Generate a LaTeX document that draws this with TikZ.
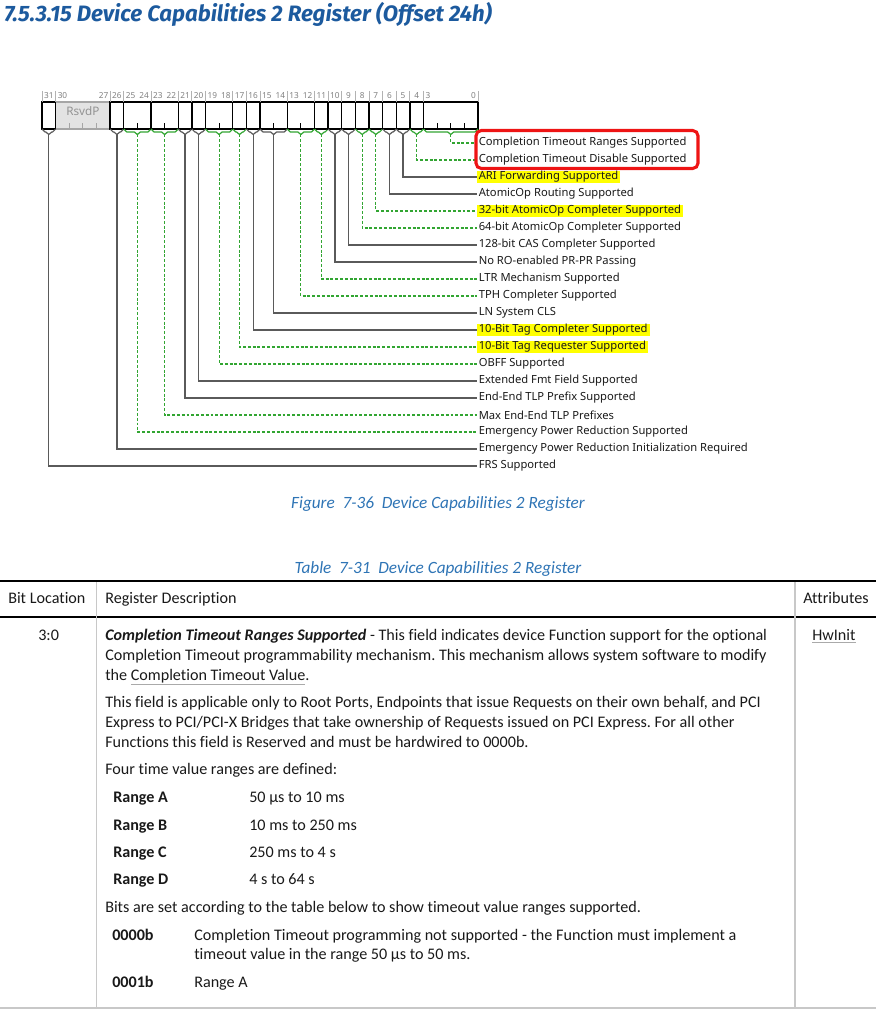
\documentclass[tikz,border=0pt]{standalone}
\usepackage{fontspec}
\setmainfont{Noto Sans}
\newfontfamily\tfont[Ligatures=NoCommon]{Carlito}
\newfontfamily\hfont{Fira Sans}
\frenchspacing
\definecolor{titleblue}{RGB}{28,90,158}
\definecolor{capblue}{RGB}{46,116,181}
\definecolor{cgreen}{RGB}{50,165,50}
\definecolor{cline}{RGB}{90,90,90}
\definecolor{txt}{RGB}{25,25,25}
\definecolor{ulgray}{RGB}{170,170,170}
\definecolor{tgray}{RGB}{200,200,200}
\definecolor{hlyellow}{RGB}{255,255,0}
\definecolor{boxred}{RGB}{238,20,20}
\tikzset{
  fieldbox/.style={draw=black,line width=1.1pt},
  chevs/.style={draw=cline,line width=0.9pt},
  chevg/.style={draw=cgreen,line width=0.9pt},
  conns/.style={draw=cline,line width=0.9pt},
  conng/.style={draw=cgreen,line width=0.8pt,dash pattern=on 2.2pt off 1.4pt},
  bitnum/.style={font=\fontsize{6.2}{7}\selectfont,text=gray,inner sep=0},
  labn/.style={anchor=west,font=\fontsize{8.4}{9}\selectfont,text=txt,inner xsep=1.5,inner ysep=0.6pt},
  labh/.style={labn,fill=hlyellow},
  tbl/.style={anchor=west,inner sep=0,text height=8.6pt,text depth=2.6pt,font=\tfont\fontsize{12.1}{14}\selectfont,text=txt},
  captext/.style={inner sep=0,font=\tfont\itshape\fontsize{12.9}{14}\selectfont,text=capblue}
}
\begin{document}
\begin{tikzpicture}[x=0.75pt,y=-0.75pt]
\useasboundingbox (0,0) rectangle (890,1019);
% title
\node[anchor=west,inner sep=0,font=\hfont\bfseries\itshape\fontsize{16.7}{18}\selectfont,text=titleblue] (title) at (4,14) {7.5.3.15 Device Capabilities 2 Register (Offset 24h)};
% reserved field
\fill[gray!22] (55.625,102) rectangle (110.125,129);
\draw[gray!70,line width=0.9pt] (55.625,102) -- (110.125,102) (55.625,129) -- (110.125,129);
\node[font=\fontsize{8.8}{10}\selectfont,text=gray!85,inner sep=0] (rsvd) at (82.9,111) {RsvdP};
\foreach \k in {1,2,3} \draw[gray!70,line width=0.8pt] (55.625+\k*13.625,123.5) -- (55.625+\k*13.625,129);
\draw[gray!60,line width=0.6pt] (55.625,91) -- (55.625,102) (110.125,91) -- (110.125,102);
\node[bitnum,anchor=west] (n30) at (57.5,96) {30};
\node[bitnum,anchor=east] (n27) at (108.5,96) {27};
% fields
\foreach \m/\l/\ly/\t/\h/\txt [count=\i] in {
 31/31/466/s/n/FRS Supported,
 26/26/449/s/n/Emergency Power Reduction Initialization Required,
 25/24/432/g/n/Emergency Power Reduction Supported,
 23/22/415/g/n/Max End-End TLP Prefixes,
 21/21/398/s/n/End-End TLP Prefix Supported,
 20/20/381/s/n/Extended Fmt Field Supported,
 19/18/364/g/n/OBFF Supported,
 17/17/347/g/h/10-Bit Tag Requester Supported,
 16/16/330/s/h/10-Bit Tag Completer Supported,
 15/14/313/s/n/LN System CLS,
 13/12/296/g/n/TPH Completer Supported,
 11/11/279/g/n/LTR Mechanism Supported,
 10/10/262/s/n/No RO-enabled PR-PR Passing,
 9/9/245/s/n/128-bit CAS Completer Supported,
 8/8/228/g/n/64-bit AtomicOp Completer Supported,
 7/7/211/g/h/32-bit AtomicOp Completer Supported,
 6/6/194/s/n/AtomicOp Routing Supported,
 5/5/177/s/h/ARI Forwarding Supported,
 4/4/160/g/n/Completion Timeout Disable Supported,
 3/0/143/g/n/Completion Timeout Ranges Supported}
{
 \pgfmathsetmacro\xl{42+(31-\m)*13.625}
 \pgfmathsetmacro\xr{42+(32-\l)*13.625}
 \pgfmathsetmacro\xc{(\xl+\xr)/2}
 \pgfmathtruncatemacro\nb{\m-\l}
 \draw[fieldbox] (\xl,102) rectangle (\xr,129);
 \draw[gray!60,line width=0.6pt] (\xl,91) -- (\xl,102) (\xr,91) -- (\xr,102);
 \ifnum\nb=0
   \node[bitnum] (n\i) at (\xc,96) {\m};
 \else
   \node[bitnum,anchor=west] (n\i) at (\xl+1.8,96) {\m};
   \node[bitnum,anchor=east] (m\i) at (\xr-1.8,96) {\l};
   \foreach \k in {1,...,\nb} \draw[black,line width=0.8pt] (\xl+\k*13.625,123.5) -- (\xl+\k*13.625,129);
 \fi
 \draw[chev\t,line join=round] (\xl,129) -- (\xl+3,132) -- (\xc-3,132) -- (\xc,134.5) -- (\xc+3,132) -- (\xr-3,132) -- (\xr,129);
 \coordinate (f\i) at (\xc,134.5);
 \if n\h
   \node[labn] (l\i) at (476.5,\ly) {\txt};
 \else
   \node[labh] (l\i) at (476.5,\ly) {\txt};
 \fi
 \draw[conn\t] (f\i) |- (l\i.west);
}
% red box
\draw[boxred,line width=2.3pt,rounded corners=4] (476,130.5) rectangle (698,168.5);
% captions
\node[captext] (figcap) at (438,504) {Figure\ \ 7-36\ \ Device Capabilities 2 Register};
\node[captext] (tabcap) at (438,569) {Table\ \ 7-31\ \ Device Capabilities 2 Register};
% table rules
\draw[black,line width=2.2pt] (0,581) -- (876,581);
\draw[black,line width=2.2pt] (0,617) -- (876,617);
\draw[tgray,line width=1.2pt] (96.5,582) -- (96.5,1008);
\draw[tgray,line width=1.2pt] (795,582) -- (795,1008);
\draw[tgray,line width=1.5pt] (0,1008) -- (876,1008);
% header
\node[tbl] (h1) at (8,599) {Bit Location};
\node[tbl] (h2) at (105,599) {Register Description};
\node[tbl] (h3) at (803,599) {Attributes};
% body
\node[tbl] (b0) at (38,636) {3:0};
\node[tbl] (b1) at (105,636) {\textbf{\textit{Completion Timeout Ranges Supported}} - This field indicates device Function support for the optional};
\node[tbl] (b2) at (105,656) {Completion Timeout programmability mechanism. This mechanism allows system software to modify};
\node[tbl] (b3) at (105,676) {the {\color{ulgray}\underline{\color{txt}Completion Timeout Value}}.};
\node[tbl] (b4) at (105,703) {This field is applicable only to Root Ports, Endpoints that issue Requests on their own behalf, and PCI};
\node[tbl] (b5) at (105,723) {Express to PCI/PCI-X Bridges that take ownership of Requests issued on PCI Express. For all other};
\node[tbl] (b6) at (105,743) {Functions this field is Reserved and must be hardwired to 0000b.};
\node[tbl] (b7) at (105,770) {Four time value ranges are defined:};
\node[tbl] (ra) at (113,798) {\textbf{Range A}};
\node[tbl] (va) at (249,798) {50 µs to 10 ms};
\node[tbl] (rb) at (113,826) {\textbf{Range B}};
\node[tbl] (vb) at (249,826) {10 ms to 250 ms};
\node[tbl] (rc) at (113,853) {\textbf{Range C}};
\node[tbl] (vc) at (249,853) {250 ms to 4 s};
\node[tbl] (rd) at (113,880) {\textbf{Range D}};
\node[tbl] (vd) at (249,880) {4 s to 64 s};
\node[tbl] (b8) at (105,908) {Bits are set according to the table below to show timeout value ranges supported.};
\node[tbl] (c0) at (112,936) {\textbf{0000b}};
\node[tbl] (c0a) at (194,936) {Completion Timeout programming not supported - the Function must implement a};
\node[tbl] (c0b) at (194,955) {timeout value in the range 50 µs to 50 ms.};
\node[tbl] (c1) at (112,983) {\textbf{0001b}};
\node[tbl] (c1a) at (194,983) {Range A};
\node[tbl] (att) at (812,636) {{\color{ulgray}\underline{\color{txt}HwInit}}};
\end{tikzpicture}
\end{document}
